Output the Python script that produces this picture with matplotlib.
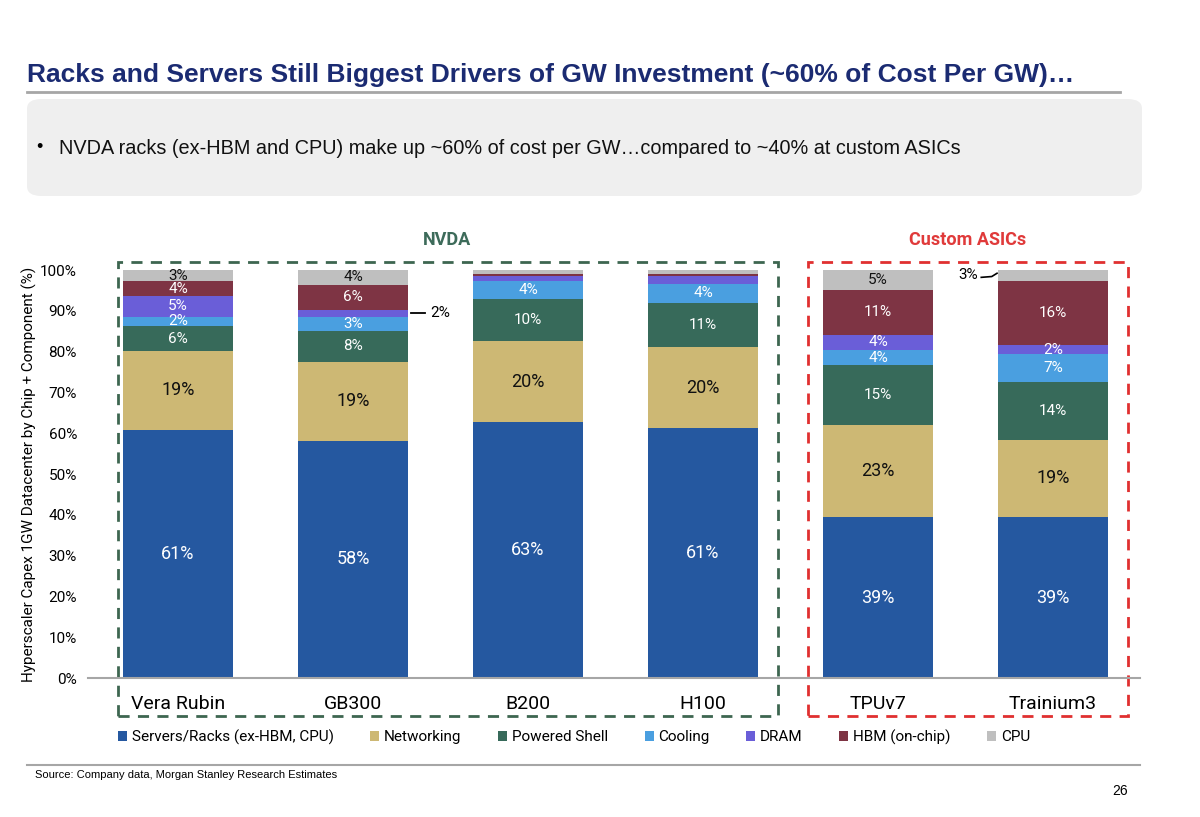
import matplotlib.pyplot as plt
from matplotlib.patches import Rectangle, FancyBboxPatch
import numpy as np

W, H = 1200, 817

chips = ['Vera Rubin', 'GB300', 'B200', 'H100', 'TPUv7', 'Trainium3']
components = ['Servers/Racks (ex-HBM, CPU)', 'Networking', 'Powered Shell', 'Cooling',
              'DRAM', 'HBM (on-chip)', 'CPU']

# share of cost per GW (%), one list per component, in chip order
servers = [60.8, 58.1, 62.7, 61.3, 39.4, 39.4]
networking = [19.4, 19.4, 19.9, 19.8, 22.6, 19.0]
powered_shell = [6.0, 7.6, 10.4, 10.9, 14.6, 14.2]
cooling = [2.4, 3.3, 4.3, 4.5, 3.8, 6.7]
dram = [5.0, 1.9, 1.2, 2.1, 3.7, 2.4]
hbm = [3.7, 6.1, 0.4, 0.3, 11.0, 15.7]
cpu = [2.7, 3.6, 1.1, 1.1, 4.9, 2.6]

colors = ['#2558A0', '#CDB874', '#376A5A', '#4A9FE0', '#6A5ED8', '#7E3444', '#BFBFBF']
text_colors = ['white', '#111111', 'white', 'white', 'white', 'white', '#111111']

NARROW = ['Liberation Sans Narrow', 'Roboto', 'DejaVu Sans']
SANS = ['Liberation Sans', 'DejaVu Sans']


def fx(x):
    return x / W


def fy(y):
    return 1 - y / H


fig = plt.figure(figsize=(12, 8.17), dpi=100)
fig.patch.set_facecolor('white')

# header
fig.text(fx(27), fy(75), 'Racks and Servers Still Biggest Drivers of GW Investment (~60% of Cost Per GW)\u2026',
         fontsize=19, fontweight='bold', color='#1B2B72', family=SANS, va='center', ha='left')
fig.add_artist(plt.Line2D([fx(27), fx(1120)], [fy(92), fy(92)], color='#A6A6A6', lw=2))
fig.add_artist(FancyBboxPatch((fx(27), fy(196)), fx(1115), (196 - 99) / H,
                              boxstyle='round,pad=0,rounding_size=0.012',
                              transform=fig.transFigure, facecolor='#EFEFEF', edgecolor='none'))
fig.text(fx(36), fy(148), '\u2022', fontsize=13, family=SANS, va='center')
fig.text(fx(59), fy(148), 'NVDA racks (ex-HBM and CPU) make up ~60% of cost per GW\u2026compared to ~40% at custom ASICs',
         fontsize=14.3, family=SANS, va='center', color='#111111')

# footer
fig.add_artist(plt.Line2D([fx(27), fx(1140)], [fy(765), fy(765)], color='#A6A6A6', lw=1.5))
fig.text(fx(35), fy(775), 'Source: Company data, Morgan Stanley Research Estimates',
         fontsize=8, family=SANS, va='center')
fig.text(fx(1128), fy(791), '26', fontsize=10, family=SANS, va='center', ha='right')

# chart
ax = fig.add_axes([fx(88), fy(678), (1140 - 88) / W, (678 - 270) / H])
data = np.array([servers, networking, powered_shell, cooling, dram, hbm, cpu])
x = np.arange(len(chips))
bottom = np.zeros(len(chips))
bars = []
for i, comp in enumerate(components):
    b = ax.bar(x, data[i], 0.63, bottom=bottom, color=colors[i], label=comp, edgecolor='none')
    bars.append(b)
    for j in range(len(chips)):
        v = data[i][j]
        mid = bottom[j] + v / 2
        if v < 2.2 or (j, i) in [(5, 6)]:
            continue
        big = i < 2
        ax.text(x[j], mid, f'{v:.0f}%', ha='center', va='center',
                color=text_colors[i], fontsize=13 if big else 11, family=NARROW)
    bottom += data[i]

# callouts for thin slices
y_gb = servers[1] + networking[1] + powered_shell[1] + cooling[1] + dram[1] / 2
ax.plot([1 + 0.33, 1 + 0.41], [y_gb, y_gb], color='black', lw=1.3, clip_on=False)
ax.text(1 + 0.44, y_gb, f'{dram[1]:.0f}%', va='center', ha='left', fontsize=11, family=NARROW)
y_tr = 100 - cpu[5] / 2
ax.plot([5 - 0.41, 5 - 0.35, 5 - 0.32], [y_tr - 0.5, y_tr - 0.3, y_tr + 0.5], color='black', lw=1.2, clip_on=False)
ax.text(5 - 0.43, y_tr, f'{cpu[5]:.0f}%', va='center', ha='right', fontsize=11, family=NARROW)

ax.set_xlim(-0.514, 5.497)
ax.set_ylim(0, 100)
ax.set_yticks(np.arange(0, 101, 10))
ax.set_yticklabels([f'{t}%' for t in range(0, 101, 10)], family=NARROW, fontsize=11)
ax.set_xticks(x)
ax.set_xticklabels(chips, family=NARROW, fontsize=14)
ax.tick_params(axis='both', length=0)
ax.tick_params(axis='x', pad=12)
ax.tick_params(axis='y', pad=8)
for s in ['top', 'right', 'left']:
    ax.spines[s].set_visible(False)
ax.spines['bottom'].set_color('#A6A6A6')
ax.spines['bottom'].set_linewidth(1.5)
ax.set_ylabel('Hyperscaler Capex 1GW Datacenter by Chip + Component (%)', family=NARROW, fontsize=11, labelpad=2)

# group boxes
ax.add_patch(Rectangle((-0.343, -9.3), 3.773, 111.3, fill=False, ls=(0, (4, 3)), lw=2,
                       edgecolor='#3D6650', clip_on=False))
ax.add_patch(Rectangle((3.6, -9.3), 1.83, 111.3, fill=False, ls=(0, (4, 3)), lw=2,
                       edgecolor='#E03030', clip_on=False))
ax.text(1.54, 107.4, 'NVDA', ha='center', va='center', color='#3D6B5A', fontsize=13,
        fontweight='bold', family=NARROW)
ax.text(4.51, 107.4, 'Custom ASICs', ha='center', va='center', color='#E03A3A', fontsize=13,
        fontweight='bold', family=NARROW)

fig.legend(handles=bars, labels=components, loc='center', bbox_to_anchor=(fx(574), fy(737)),
           ncol=7, frameon=False, handlelength=0.6, handleheight=0.6, handletextpad=0.3,
           columnspacing=2.4, prop={'family': NARROW, 'size': 11})

fig.savefig('out.png', dpi=100)
